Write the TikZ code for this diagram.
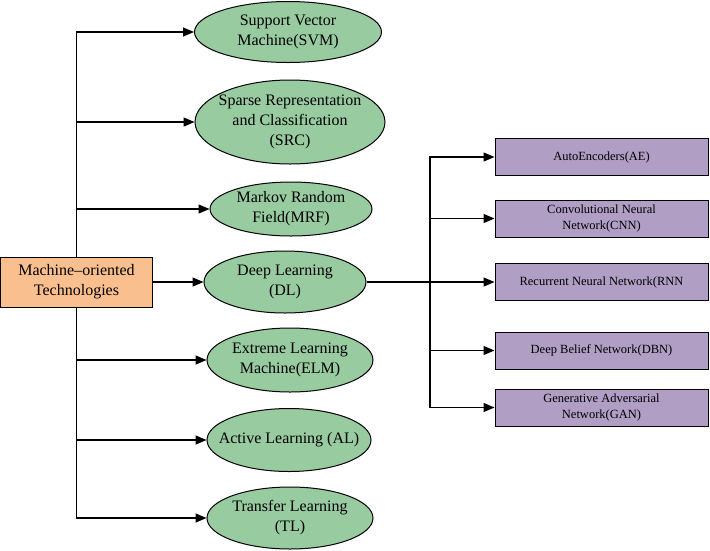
\documentclass[tikz,border=0pt]{standalone}
\usepackage{fontspec}
\setmainfont{Liberation Serif}
\usetikzlibrary{arrows.meta,shapes.geometric}

\definecolor{orangebox}{RGB}{250,191,142}
\definecolor{greenell}{RGB}{152,203,160}
\definecolor{purplebox}{RGB}{177,158,197}

\tikzset{
	tech/.style={rectangle, draw, fill=orangebox, minimum width=152pt, minimum height=50pt, align=center, font=\fontsize{16}{20}\selectfont},
	method/.style={ellipse, draw, fill=greenell, inner sep=0pt},
	mtext/.style={align=center, font=\fontsize{16}{20}\selectfont},
	net/.style={rectangle, draw, fill=purplebox, minimum width=213pt, minimum height=37pt, inner sep=2pt, align=center, font=\fontsize{12.5}{16}\selectfont},
	arr/.style={-{Triangle[length=11pt,width=9pt]}, line width=1.2pt}
}

\begin{document}
\begin{tikzpicture}[x=1pt, y=-1pt, line width=1pt]
		\useasboundingbox (0,0) rectangle (710,550);
		
		% Draw the nodes
		\node[tech] (mot) at (76.5,282) {Machine--oriented\\Technologies};
		
		\node[method, minimum width=187pt, minimum height=61pt, label={[mtext]center:{Support Vector\\Machine(SVM)}}] (svm) at (288,32) {};
		\node[method, minimum width=190pt, minimum height=84pt, label={[mtext]center:{Sparse Representation\\and Classification\\(SRC)}}] (src) at (290,122) {};
		\node[method, minimum width=162pt, minimum height=54pt, label={[mtext]center:{Markov Random\\Field(MRF)}}] (mrf) at (291,209) {};
		\node[method, minimum width=162pt, minimum height=62pt, label={[mtext]center:{Deep Learning\\(DL)}}] (dl) at (285,282) {};
		\node[method, minimum width=166pt, minimum height=64pt, label={[mtext]center:{Extreme Learning\\Machine(ELM)}}] (elm) at (290,360) {};
		\node[method, minimum width=164pt, minimum height=63pt, label={[mtext]center:{Active Learning (AL)}}] (al) at (289,440) {};
		\node[method, minimum width=166pt, minimum height=62pt, label={[mtext]center:{Transfer Learning\\(TL)}}] (tl) at (290,518) {};
		
		\node[net] (ae) at (601.5,157) {AutoEncoders(AE)};
		\node[net] (cnn) at (601.5,218.5) {Convolutional Neural\\Network(CNN)};
		\node[net] (rnn) at (601.5,282) {Recurrent Neural Network(RNN};
		\node[net] (dbn) at (601.5,350.5) {Deep Belief Network(DBN)};
		\node[net] (gan) at (601.5,407.5) {Generative Adversarial\\Network(GAN)};
		
		% Draw the tree from the left box
		\draw[arr] (mot.north) |- (svm.west);
		\draw[arr] (mot.north) |- (src.west);
		\draw[arr] (mot.north) |- (mrf.west);
		\draw[arr] (mot.east) -- (dl.west);
		\draw[arr] (mot.south) |- (elm.west);
		\draw[arr] (mot.south) |- (al.west);
		\draw[arr] (mot.south) |- (tl.west);
		
		% Draw the branches of deep learning
		\coordinate (dlj) at (430,282);
		\draw[line width=1.5pt] (dl.east) -- (dlj);
		\draw[arr] (dlj) |- (ae.west);
		\draw[arr] (dlj) |- (cnn.west);
		\draw[arr] (dlj) -- (rnn.west);
		\draw[arr] (dlj) |- (dbn.west);
		\draw[arr] (dlj) |- (gan.west);
	\end{tikzpicture}
\end{document}
